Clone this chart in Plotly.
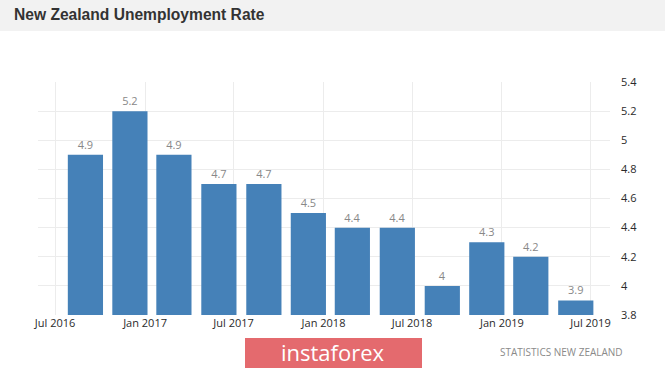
import plotly.graph_objects as go

# Data (quarterly)
dates = ["2016-09-01", "2016-12-01", "2017-03-01", "2017-06-01", "2017-09-01", "2017-12-01",
         "2018-03-01", "2018-06-01", "2018-09-01", "2018-12-01", "2019-03-01", "2019-06-01"]
rates = [4.9, 5.2, 4.9, 4.7, 4.7, 4.5, 4.4, 4.4, 4.0, 4.3, 4.2, 3.9]
value_labels = ["4.9", "5.2", "4.9", "4.7", "4.7", "4.5", "4.4", "4.4", "4", "4.3", "4.2", "3.9"]
y_ticks = [3.8, 4.0, 4.2, 4.4, 4.6, 4.8, 5.0, 5.2, 5.4]
y_ticktext = ["3.8", "4", "4.2", "4.4", "4.6", "4.8", "5", "5.2", "5.4"]
base_value = 3.8

W, H = 665, 369
L, R, T, B = 38, 610, 82, 315  # plot area in pixels
PW, PH = R - L, B - T


def px_x(x):
    return (x - L) / PW


def px_y(y):
    return (B - y) / PH


fig = go.Figure()
fig.add_trace(go.Bar(
    x=dates, y=[r - base_value for r in rates], base=base_value,
    width=72 * 86400000,
    marker=dict(color="#4581b8", line=dict(width=0)),
    text=value_labels, textposition="outside",
    textfont=dict(family="Open Sans, Arial", size=11, color="#888888"),
    cliponaxis=False,
    hoverinfo="x+y",
))

fig.update_layout(
    width=W, height=H,
    margin=dict(l=L, r=W - R, t=T, b=H - B),
    paper_bgcolor="white", plot_bgcolor="white",
    showlegend=False,
    xaxis=dict(
        type="date",
        range=["2016-05-27", "2019-08-10"],
        tick0="2016-07-01", dtick="M6", tickformat="%b %Y",
        showgrid=True, gridcolor="#ececec", gridwidth=1,
        showline=False, zeroline=False, ticks="",
        tickfont=dict(family="Open Sans, Arial", size=11, color="#2a2a2a"),
        fixedrange=True,
    ),
    yaxis=dict(
        side="right", range=[3.8, 5.4],
        tickvals=y_ticks, ticktext=y_ticktext,
        showgrid=True, gridcolor="#ececec", gridwidth=1,
        zeroline=False, showline=False, ticks="",
        ticklabelstandoff=10,
        tickfont=dict(family="Open Sans, Arial", size=11, color="#2a2a2a"),
        fixedrange=True,
    ),
    shapes=[
        dict(type="rect", xref="paper", yref="paper", x0=px_x(0), x1=px_x(W),
             y0=px_y(31), y1=px_y(0),
             fillcolor="#f2f2f2", line=dict(width=0), layer="below"),
        dict(type="rect", xref="paper", yref="paper",
             x0=px_x(245), x1=px_x(422), y0=px_y(368), y1=px_y(338),
             fillcolor="#e46a6e", line=dict(width=0)),
    ],
    annotations=[
        dict(text="<b>New Zealand Unemployment Rate</b>", xref="paper", yref="paper",
             x=px_x(12), y=px_y(15), xanchor="left", yanchor="middle",
             showarrow=False, font=dict(family="Arial, Liberation Sans", size=15.6, color="#333333")),
        dict(text="instaforex", xref="paper", yref="paper",
             x=px_x(333), y=px_y(352), xanchor="center", yanchor="middle",
             showarrow=False, font=dict(family="Open Sans, Arial", size=22, color="white")),
        dict(text="STATISTICS NEW ZEALAND", xref="paper", yref="paper",
             x=px_x(625), y=px_y(352), xanchor="right", yanchor="middle",
             showarrow=False, font=dict(family="Open Sans, Arial", size=10, color="#8a8a8a")),
    ],
)

fig.write_html(
    "out.html",
    config={"displayModeBar": False},
    post_script="document.body.style.margin='0';document.body.style.overflow='hidden';",
)
